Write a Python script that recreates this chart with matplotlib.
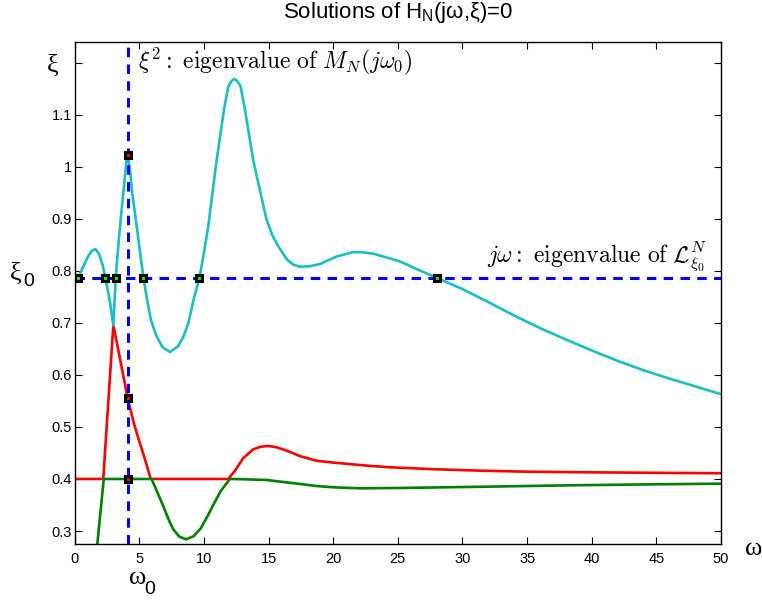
import matplotlib
matplotlib.use("Agg")
import matplotlib.pyplot as plt

plt.rcParams["font.family"] = ["Liberation Sans", "DejaVu Sans"]

# operating point
OMEGA0 = 4.1
XI0 = 0.786

# branch traced in cyan (eigenvalue of M_N)
cyan_x = [0.0, 0.25, 0.6, 1.0, 1.3, 1.6, 1.9, 2.15, 2.38, 2.7, 2.99, 3.17, 3.4,
          3.56, 3.8, 4.0, 4.1, 4.25, 4.45, 4.72, 5.0, 5.32, 5.6, 5.9, 6.3, 6.8,
          7.37, 8.0, 8.4, 8.8, 9.2, 9.65, 10.0, 10.33, 10.98, 11.55, 11.88, 12.1,
          12.34, 12.6, 12.84, 13.17, 13.81, 14.4, 14.85, 15.3, 15.75, 16.45,
          16.9, 17.42, 18.2, 18.97, 20.26, 21.55, 22.3, 23.1, 24.38, 25.16, 26.5,
          28.05, 30.0, 32.0, 34.0, 36.0, 38.0, 40.0, 42.0, 44.0, 46.0, 48.0, 50.0]
cyan_y = [0.780, 0.786, 0.805, 0.826, 0.838, 0.842, 0.832, 0.812, 0.786, 0.745,
          0.695, 0.786, 0.856, 0.900, 0.959, 1.010, 1.022, 1.000, 0.950, 0.900,
          0.847, 0.786, 0.745, 0.705, 0.676, 0.653, 0.644, 0.655, 0.673, 0.700,
          0.745, 0.786, 0.835, 0.885, 1.013, 1.110, 1.154, 1.164, 1.169, 1.164,
          1.154, 1.110, 1.013, 0.947, 0.898, 0.868, 0.847, 0.821, 0.812, 0.808,
          0.809, 0.813, 0.8275, 0.836, 0.8355, 0.833, 0.824, 0.818, 0.803, 0.786,
          0.765, 0.740, 0.714, 0.690, 0.668, 0.647, 0.627, 0.609, 0.593, 0.578,
          0.563]

# upper branch in red
red_x = [0.0, 2.21, 2.6, 2.99, 3.5, 4.1, 4.6, 5.0, 5.45, 5.88, 11.88, 12.4,
         13.04, 13.81, 14.4, 14.97, 15.6, 16.4, 17.42, 18.71, 20.0, 22.58, 24.38,
         27.5, 31.35, 35.0, 38.8, 44.0, 50.0]
red_y = [0.4, 0.4, 0.548, 0.696, 0.632, 0.555, 0.505, 0.472, 0.437, 0.4, 0.4,
         0.416, 0.44, 0.457, 0.462, 0.4635, 0.461, 0.4545, 0.444, 0.435, 0.4315,
         0.4257, 0.4225, 0.419, 0.416, 0.414, 0.413, 0.412, 0.411]

# lower branch in green
green_x = [1.65, 2.25, 5.95, 6.4, 6.85, 7.3, 7.63, 8.1, 8.62, 9.2, 9.75, 10.2,
           10.72, 11.3, 12.01, 13.0, 14.85, 16.9, 18.7, 20.0, 22.06, 25.16,
           31.35, 38.8, 44.0, 50.0]
green_y = [0.25, 0.4, 0.4, 0.374, 0.348, 0.320, 0.303, 0.289, 0.284, 0.290,
           0.305, 0.325, 0.35, 0.377, 0.4, 0.3995, 0.398, 0.392, 0.3865, 0.384,
           0.382, 0.3827, 0.385, 0.388, 0.3895, 0.391]

# solutions on the xi = xi0 line and on the omega = omega0 line
hits_omega = [0.25, 2.38, 3.17, 5.32, 9.65, 28.05]
hits_xi = [1.022, 0.555, 0.4]

fig = plt.figure(figsize=(7.62, 6.01), dpi=100)
ax = fig.add_axes([74.7 / 762, 1 - 543.7 / 601, (721 - 74.7) / 762, (543.7 - 41.7) / 601])

lw = 1.9
ax.plot(red_x, red_y, color="red", lw=lw)
ax.plot(green_x, green_y, color=(0, 0.5, 0), lw=lw)
ax.plot(cyan_x, cyan_y, color=(0.1, 0.75, 0.75), lw=lw)

dash = dict(color="blue", lw=2.2, dashes=(3.1, 2.4))
ax.axhline(XI0, **dash)
ax.axvline(OMEGA0, **dash)

ax.plot(hits_omega, [XI0] * len(hits_omega), "s", ms=4.3, mfc=(0, 1, 0),
        mec="k", mew=2.2)
ax.plot([OMEGA0] * len(hits_xi), hits_xi, "s", ms=4.3, mfc="red",
        mec="k", mew=2.2)

ax.set_xlim(0, 50)
ax.set_ylim(0.2756, 1.2404)
ax.set_xticks(range(0, 51, 5))
yt = [0.3, 0.4, 0.5, 0.6, 0.7, 0.8, 0.9, 1.0, 1.1, 1.2]
ax.set_yticks(yt)
ax.set_yticklabels(["0.3", "0.4", "0.5", "0.6", "0.7", "0.8", "0.9", "1", "1.1", ""])
ax.tick_params(direction="in", top=True, right=True, length=5, width=0.8,
               labelsize=10.5)
ax.tick_params(axis="x", pad=6)
ax.tick_params(axis="y", pad=2)
for s in ax.spines.values():
    s.set_linewidth(1.0)

ax.text(4.9, 1.19, r"$\xi^2:\ \mathrm{eigenvalue\ of}\ M_N(j\omega_0)$",
        math_fontfamily="cm", fontsize=17, va="baseline")
ax.text(31.86, 0.818, r"$j\omega:\ \mathrm{eigenvalue\ of}\ \mathcal{L}^N_{\xi_0}$",
        math_fontfamily="cm", fontsize=17, va="baseline")

fig.text(397.9 / 762, 1 - 18 / 601, r"Solutions of H$_\mathregular{N}$(jω,ξ)=0",
         ha="center", va="baseline", fontsize=16)

greek = dict(family="Liberation Serif", fontsize=19, ha="center", va="center")
sub = dict(family="Liberation Sans", fontsize=14, ha="center", va="center")
fig.text(53 / 762, 1 - 66 / 601, "ξ", **greek)
fig.text(16 / 762, 1 - 274 / 601, "ξ", **greek)
fig.text(29 / 762, 1 - 281 / 601, "0", **sub)
fig.text(754 / 762, 1 - 549 / 601, "ω", **greek)
fig.text(137.5 / 762, 1 - 578 / 601, "ω", **greek)
fig.text(149.5 / 762, 1 - 589 / 601, "0", **sub)

fig.savefig("out.png", dpi=100)
